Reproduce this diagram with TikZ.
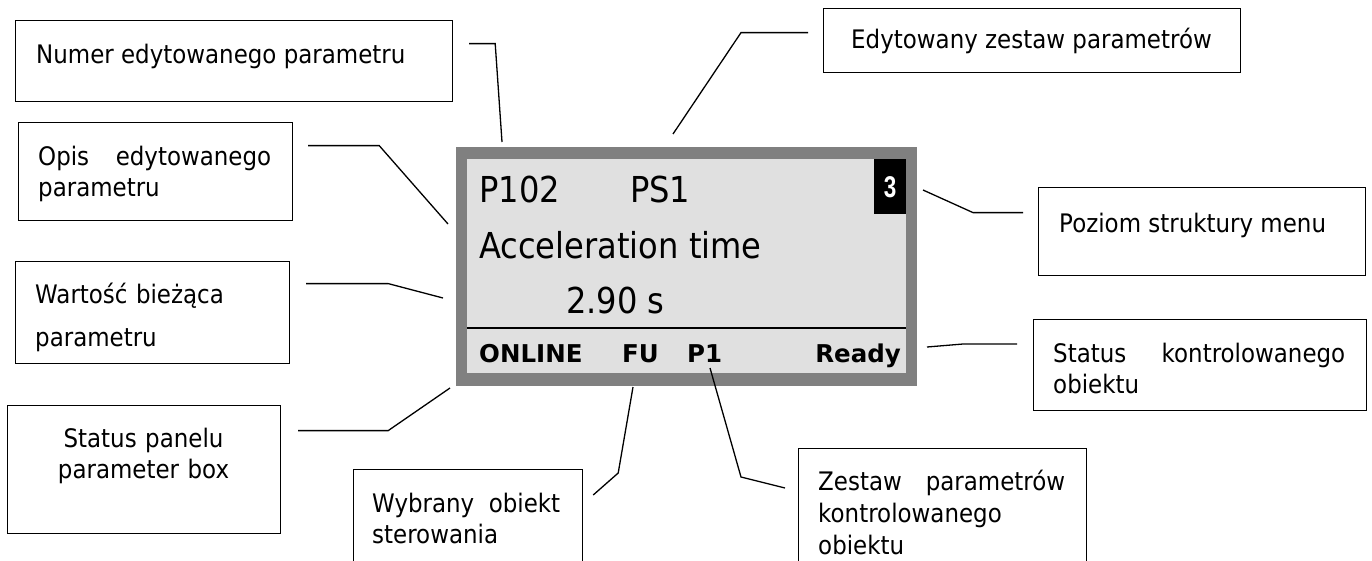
\documentclass[tikz,border=0pt]{standalone}
\usepackage{fontspec}
\usetikzlibrary{calc}
\newfontfamily\tahoma[FakeStretch=0.9]{DejaVu Sans}
\newfontfamily\lcdbf{DejaVu Sans}
\newfontfamily\narrowsf[FakeStretch=0.75]{Liberation Sans}
\definecolor{frameGrey}{HTML}{808080}
\definecolor{screenGrey}{HTML}{E0E0E0}
\hyphenpenalty=10000
\tikzset{callout/.style={draw=black,line width=1.2pt,anchor=north west,inner sep=0pt},
  calltxt/.style={font=\tahoma\fontsize{25.5}{31.5}\selectfont,text=black,inner sep=0pt,
    anchor=base west,align=justify},
  lead/.style={line width=1.3pt,line join=miter},
  lcdtxt/.style={font=\tahoma\fontsize{35.7}{40}\selectfont,inner sep=0pt,anchor=base west},
  lcdstat/.style={font=\lcdbf\bfseries\fontsize{24.5}{28}\selectfont,inner sep=0pt,anchor=base west},
  sepline/.style={line width=2.5pt}}

\begin{document}
\begin{tikzpicture}[x=1pt,y=-1pt]
\path[use as bounding box] (0,0) rectangle (1372,560);
\clip (0,0) rectangle (1372,560);
\node[fill=frameGrey,anchor=north west,inner sep=0pt,minimum width=461pt,minimum height=239pt] (lcdFrame) at (456,147) {};
\node[fill=screenGrey,anchor=north west,inner sep=0pt,minimum width=439pt,minimum height=214pt] (lcdScreen) at (467,159) {};
\node[fill=black,text=white,anchor=north east,inner sep=0pt,minimum width=32pt,minimum height=55pt,
  font=\narrowsf\bfseries\fontsize{30}{30}\selectfont] (lvlBox) at (lcdScreen.north east) {3};
\draw[sepline] ($(lcdScreen.north west)+(0,169)$) -- ($(lcdScreen.north east)+(0,169)$);
\node[lcdtxt] (parNum) at (479,202) {P102};
\node[lcdtxt] (parSet) at (630,202) {PS1};
\node[lcdtxt] (parDesc) at (479,258) {Acceleration time};
\node[lcdtxt] (parVal) at (566,313) {2.90 s};
\node[lcdstat] (stOnline) at (479,362) {ONLINE};
\node[lcdstat] (stFU) at (622,362) {FU};
\node[lcdstat] (stP1) at (687,362) {P1};
\node[lcdstat,anchor=base east] (stReady) at (901,362) {Ready};

\node[callout,minimum width=437pt,minimum height=81pt] (numBox) at (15,20) {};
\node[calltxt] (numTxt) at ([shift={(21,43)}]numBox.north west) {Numer edytowanego parametru};
\node[callout,minimum width=274pt,minimum height=98pt] (opisBox) at (18,122) {};
\node[calltxt,text width=233pt] (opisTxt) at ([shift={(20,43)}]opisBox.north west) {Opis edytowanego\linebreak parametru};
\node[callout,minimum width=274pt,minimum height=102pt] (wartBox) at (15,261) {};
\node[calltxt,text width=240pt,align=left] (wartTxt) at ([shift={(20,42)}]wartBox.north west) {Warto\'s\'c bie\.z\k{a}ca\\[11.5pt]parametru};
\node[callout,minimum width=273pt,minimum height=128pt] (panBox) at (7,405) {};
\node[calltxt,text width=260pt,align=center,anchor=base] (panTxt) at ([shift={(136.5,42)}]panBox.north west) {Status panelu\\parameter box};
\node[callout,minimum width=229pt,minimum height=140pt] (wybBox) at (353,469) {};
\node[calltxt,text width=188pt] (wybTxt) at ([shift={(19,43)}]wybBox.north west) {Wybrany obiekt\linebreak sterowania};
\node[callout,minimum width=288pt,minimum height=150pt] (zestBox) at (798,448) {};
\node[calltxt,text width=247pt,font=\tahoma\fontsize{25.5}{32}\selectfont] (zestTxt) at ([shift={(20,42)}]zestBox.north west) {Zestaw parametr\'ow\linebreak kontrolowanego\\obiektu};
\node[callout,minimum width=333pt,minimum height=91pt] (konBox) at (1033,319) {};
\node[calltxt,text width=292pt] (konTxt) at ([shift={(20,43)}]konBox.north west) {Status kontrolowanego\linebreak obiektu};
\node[callout,minimum width=327pt,minimum height=88pt] (pozBox) at (1038,187) {};
\node[calltxt] (pozTxt) at ([shift={(21,45)}]pozBox.north west) {Poziom struktury menu};
\node[callout,minimum width=417pt,minimum height=64pt] (edytBox) at (823,8) {};
\node[calltxt,anchor=base] (edytTxt) at ([shift={(208.5,40)}]edytBox.north west) {Edytowany zestaw parametr\'ow};

\coordinate (numTip) at (502,142);
\coordinate (opisTip) at (448,224);
\coordinate (wartTip) at (443,298);
\coordinate (panTip) at (450,388);
\coordinate (wybTip) at (633,387);
\coordinate (zestTip) at (710,368);
\coordinate (konTip) at (927,347);
\coordinate (pozTip) at (923,190);
\coordinate (edytTip) at (673,134);
\draw[lead] ($(numBox.east)+(16,-17.5)$) -- ++(26,0) -- (numTip);
\draw[lead] ($(opisBox.east)+(15,-26)$) -- ++(71,0) -- (opisTip);
\draw[lead] ($(wartBox.east)+(16,-29)$) -- ++(82,0) -- (wartTip);
\draw[lead] ($(panBox.east)+(17,-39)$) -- ++(90,0) -- (panTip);
\draw[lead] ($(wybBox.north east)+(10,26)$) -- ++(25,-22) -- (wybTip);
\draw[lead] ($(zestBox.north west)+(-13,40)$) -- ++(-44,-11) -- (zestTip);
\draw[lead] ($(konBox.north west)+(-16,25)$) -- ++(-54,0) -- (konTip);
\draw[lead] ($(pozBox.west)+(-15,-19)$) -- ++(-50,0) -- (pozTip);
\draw[lead] ($(edytBox.west)+(-15,-8)$) -- ++(-67,0) -- (edytTip);
\end{tikzpicture}
\end{document}
